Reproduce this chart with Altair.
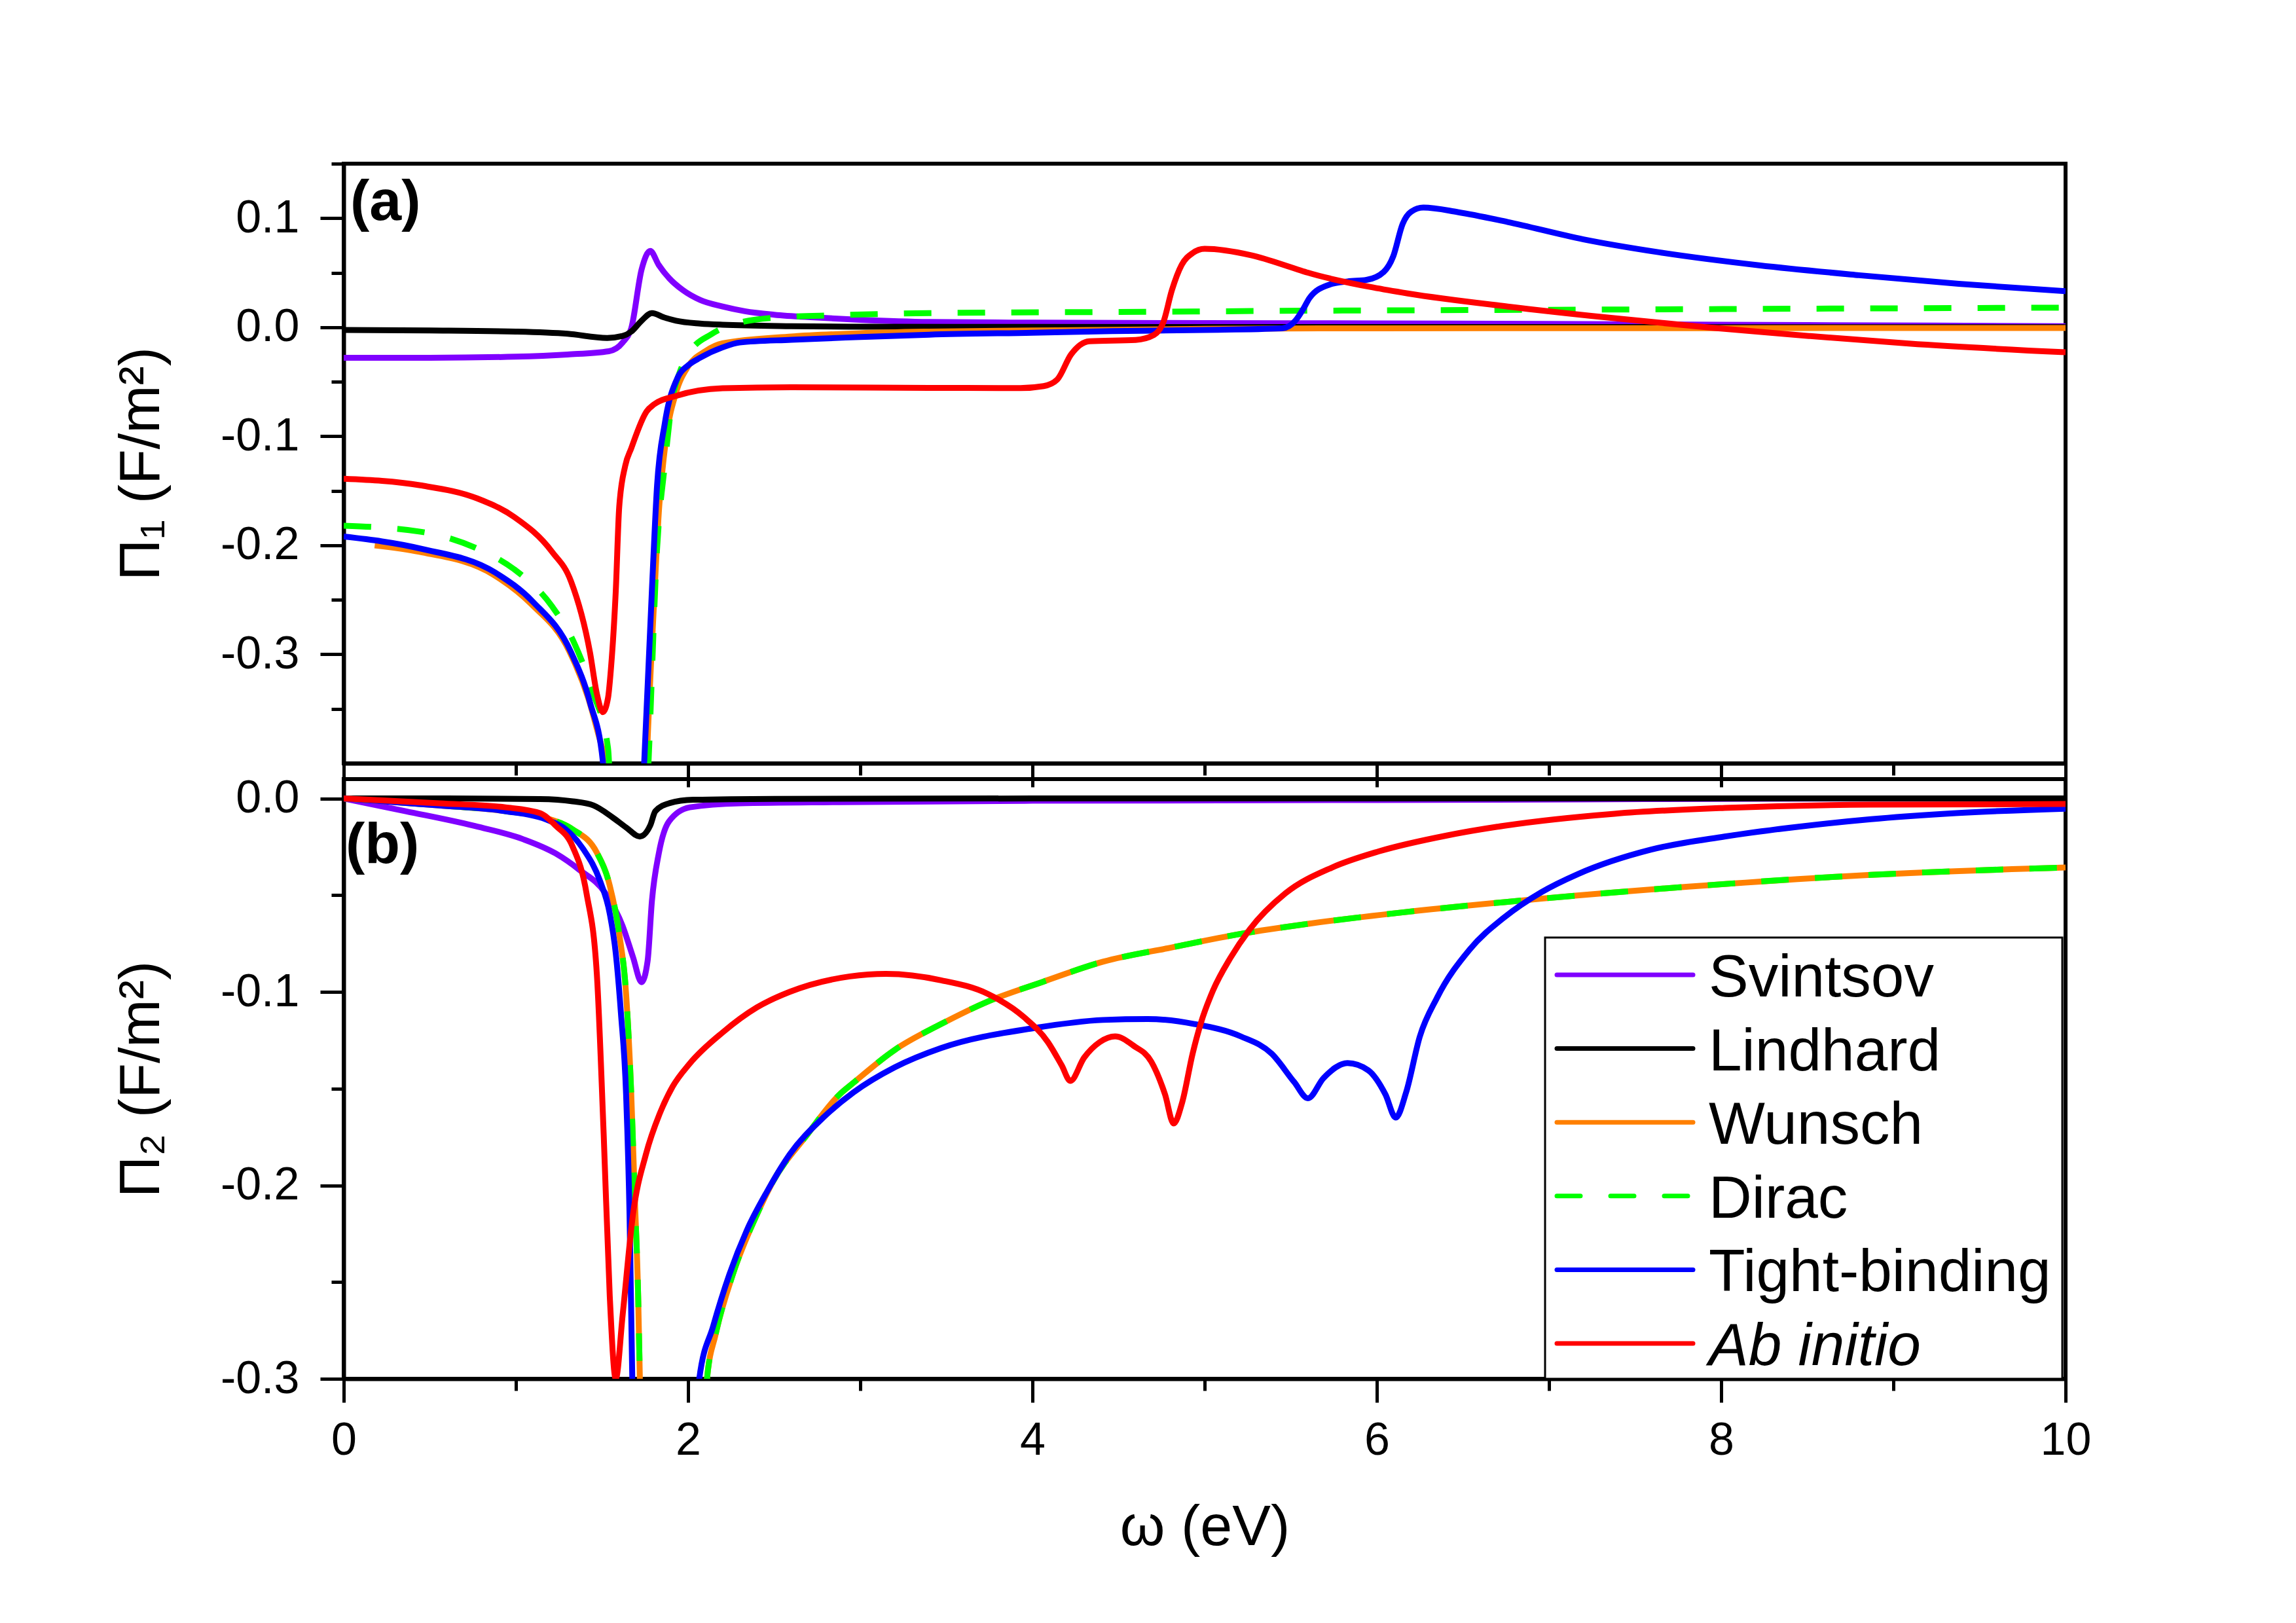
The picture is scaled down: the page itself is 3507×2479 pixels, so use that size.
import altair as alt
import pandas as pd

# ---------------- data ----------------
MODELS = ["Svintsov", "Lindhard", "Wunsch", "Dirac", "Tight-binding", "Ab initio"]
COLORS = ["#8000FF", "#000000", "#FF8000", "#00FF00", "#0000FF", "#FF0000"]

# panel (a): Pi_1
sv_a_x = [0.0, 0.5, 1.0, 1.3, 1.54, 1.62, 1.67, 1.73, 1.78, 1.83, 1.89, 1.97, 2.07, 2.2, 2.33, 2.5, 2.73, 3.0, 3.4, 4.0, 5.0, 6.0, 7.0, 8.5, 10.0]
sv_a_y = [-0.028, -0.028, -0.027, -0.025, -0.022, -0.014, -0.001, 0.053, 0.070, 0.057, 0.045, 0.034, 0.025, 0.019, 0.0147, 0.0115, 0.009, 0.0068, 0.0048, 0.0042, 0.0038, 0.0035, 0.003, 0.002, 0.001]

lh_a_x = [0.0, 0.5, 1.0, 1.3, 1.53, 1.62, 1.67, 1.73, 1.79, 1.86, 1.93, 2.07, 2.2, 2.6, 3.0, 4.0, 6.0, 8.0, 10.0]
lh_a_y = [-0.0025, -0.003, -0.004, -0.006, -0.0098, -0.008, -0.004, 0.006, 0.013, 0.009, 0.006, 0.0034, 0.0023, 0.001, 0.0005, 0.0003, 0.0002, 0.0001, 0.0]

wu_a_x = [0.18, 0.44, 0.87, 1.09, 1.31, 1.42, 1.50, 1.53, 1.56, 1.74, 1.76, 1.80, 1.83, 1.87, 1.93, 2.0, 2.1, 2.2, 2.6, 3.0, 3.4, 4.0, 5.0, 6.0, 8.0, 10.0]
wu_a_y = [-0.200, -0.206, -0.227, -0.254, -0.297, -0.340, -0.385, -0.40, -0.5, -0.5, -0.40, -0.26, -0.17, -0.105, -0.06, -0.036, -0.022, -0.0148, -0.0085, -0.0055, -0.004, -0.003, -0.0015, -0.001, -0.0008, -0.0007]

di_a_x = [0.0, 0.445, 0.775, 0.99, 1.21, 1.34, 1.45, 1.535, 1.57, 1.74, 1.77, 1.82, 1.865, 1.91, 1.95, 2.0, 2.14, 2.28, 2.52, 2.86, 3.4, 4.46, 5.8, 7.0, 8.5, 10.0]
di_a_y = [-0.182, -0.1875, -0.203, -0.222, -0.256, -0.29, -0.336, -0.386, -0.5, -0.5, -0.40, -0.203, -0.126, -0.065, -0.042, -0.025, -0.006, 0.0034, 0.009, 0.011, 0.013, 0.014, 0.0153, 0.016, 0.017, 0.018]

tb_a_x = [0.0, 0.445, 0.88, 1.10, 1.32, 1.43, 1.505, 1.53, 1.72, 1.745, 1.79, 1.82, 1.865, 1.94, 2.0, 2.07, 2.2, 2.3, 2.6, 3.0, 3.4, 4.0, 4.46, 5.0, 5.45, 5.53, 5.57, 5.61, 5.72, 5.83, 5.94, 6.04, 6.095, 6.15, 6.2, 6.27, 6.47, 6.76, 7.2, 7.64, 8.22, 8.8, 9.38, 10.0]
tb_a_y = [-0.192, -0.203, -0.225, -0.252, -0.298, -0.344, -0.398, -0.5, -0.5, -0.40, -0.241, -0.145, -0.088, -0.046, -0.035, -0.028, -0.0185, -0.014, -0.0115, -0.009, -0.0068, -0.005, -0.0036, -0.0025, -0.001, 0.0066, 0.016, 0.027, 0.0388, 0.042, 0.0434, 0.0507, 0.0649, 0.0948, 0.106, 0.1097, 0.1056, 0.0965, 0.0806, 0.0687, 0.0568, 0.0477, 0.0398, 0.033]

ai_a_x = [0.0, 0.445, 0.775, 0.99, 1.21, 1.32, 1.43, 1.47, 1.505, 1.535, 1.55, 1.58, 1.60, 1.635, 1.67, 1.76, 1.80, 1.93, 2.2, 2.6, 3.4, 3.93, 4.065, 4.144, 4.224, 4.33, 4.60, 4.706, 4.76, 4.81, 4.866, 4.93, 5.0, 5.27, 5.53, 5.6, 5.98, 6.18, 6.76, 7.35, 7.93, 8.51, 9.09, 10.0]
ai_a_y = [-0.139, -0.145, -0.157, -0.174, -0.206, -0.233, -0.298, -0.336, -0.353, -0.340, -0.317, -0.242, -0.165, -0.127, -0.111, -0.077, -0.071, -0.063, -0.056, -0.055, -0.0556, -0.0558, -0.054, -0.048, -0.025, -0.0128, -0.0116, -0.007, 0.0045, 0.034, 0.057, 0.068, 0.0719, 0.066, 0.0535, 0.050, 0.0364, 0.031, 0.019, 0.0087, -0.0003, -0.008, -0.015, -0.023]

# panel (b): Pi_2
sv_b_x = [0.0, 0.36, 0.75, 1.04, 1.23, 1.37, 1.52, 1.62, 1.68, 1.73, 1.765, 1.79, 1.83, 1.89, 2.01, 2.3, 2.88, 4.0, 6.0, 7.2, 8.0, 10.0]
sv_b_y = [0.0, -0.0066, -0.014, -0.021, -0.0284, -0.037, -0.049, -0.066, -0.082, -0.095, -0.084, -0.053, -0.0284, -0.0118, -0.0046, -0.0025, -0.0019, -0.0012, -0.0008, -0.0005, -0.0002, 0.0]

lh_b_x = [0.0, 0.6, 1.14, 1.33, 1.45, 1.56, 1.64, 1.72, 1.78, 1.81, 1.89, 2.03, 2.5, 4.0, 10.0]
lh_b_y = [0.0, 0.0, -0.0003, -0.0015, -0.0036, -0.0097, -0.015, -0.0197, -0.014, -0.0066, -0.0025, -0.0007, -0.0002, 0.0, 0.0]

wu_b_x = [0.0, 0.555, 0.94, 1.17, 1.33, 1.47, 1.545, 1.60, 1.64, 1.67, 1.69, 1.71, 1.72, 1.74, 2.08, 2.11, 2.16, 2.26, 2.40, 2.49, 2.69, 2.88, 2.96, 3.2, 3.47, 3.74, 4.06, 4.41, 4.81, 5.21, 5.61, 6.14, 6.74, 7.81, 8.87, 10.0]
wu_b_y = [0.0, -0.0036, -0.0066, -0.010, -0.016, -0.028, -0.045, -0.070, -0.101, -0.153, -0.205, -0.257, -0.30, -0.40, -0.40, -0.30, -0.277, -0.246, -0.215, -0.1985, -0.174, -0.153, -0.147, -0.130, -0.1166, -0.105, -0.0948, -0.0844, -0.077, -0.070, -0.0647, -0.059, -0.0536, -0.0456, -0.0395, -0.0357]

di_b_x = list(wu_b_x)
di_b_y = list(wu_b_y)

tb_b_x = [0.0, 0.555, 0.94, 1.17, 1.29, 1.39, 1.49, 1.545, 1.58, 1.61, 1.64, 1.66, 1.676, 1.70, 2.04, 2.065, 2.145, 2.24, 2.34, 2.46, 2.59, 2.785, 2.96, 3.2, 3.47, 4.01, 4.41, 4.67, 4.94, 5.21, 5.39, 5.52, 5.60, 5.69, 5.83, 5.95, 6.05, 6.11, 6.17, 6.25, 6.35, 6.54, 6.74, 6.955, 7.17, 7.59, 8.02, 8.45, 8.87, 9.30, 10.0]
tb_b_y = [0.0, -0.0036, -0.0066, -0.0107, -0.016, -0.026, -0.043, -0.0595, -0.080, -0.111, -0.153, -0.215, -0.30, -0.40, -0.40, -0.30, -0.273, -0.246, -0.2235, -0.203, -0.184, -0.165, -0.152, -0.139, -0.129, -0.1187, -0.1145, -0.114, -0.1166, -0.123, -0.132, -0.1466, -0.155, -0.1446, -0.1368, -0.1405, -0.153, -0.165, -0.152, -0.123, -0.103, -0.078, -0.0615, -0.0485, -0.039, -0.0265, -0.0197, -0.0146, -0.0107, -0.0079, -0.0053]

ai_b_x = [0.0, 0.555, 0.94, 1.14, 1.23, 1.33, 1.41, 1.47, 1.51, 1.545, 1.58, 1.62, 1.68, 1.755, 1.835, 1.91, 2.01, 2.20, 2.40, 2.59, 2.94, 3.15, 3.47, 3.74, 3.95, 4.09, 4.17, 4.22, 4.30, 4.39, 4.48, 4.59, 4.69, 4.77, 4.82, 4.87, 4.93, 4.98, 5.05, 5.15, 5.26, 5.47, 5.74, 6.01, 6.41, 6.74, 7.38, 8.02, 8.87, 10.0]
ai_b_y = [0.0, -0.0025, -0.0046, -0.0076, -0.014, -0.025, -0.049, -0.0907, -0.174, -0.257, -0.30, -0.267, -0.215, -0.184, -0.163, -0.149, -0.137, -0.121, -0.108, -0.100, -0.092, -0.0907, -0.094, -0.101, -0.113, -0.126, -0.138, -0.146, -0.134, -0.126, -0.123, -0.128, -0.136, -0.153, -0.168, -0.157, -0.132, -0.1156, -0.099, -0.0824, -0.0679, -0.049, -0.0357, -0.0274, -0.0191, -0.0141, -0.0079, -0.0049, -0.0032, -0.0029]

SERIES_A = [(sv_a_x, sv_a_y), (lh_a_x, lh_a_y), (wu_a_x, wu_a_y), (di_a_x, di_a_y), (tb_a_x, tb_a_y), (ai_a_x, ai_a_y)]
SERIES_B = [(sv_b_x, sv_b_y), (lh_b_x, lh_b_y), (wu_b_x, wu_b_y), (di_b_x, di_b_y), (tb_b_x, tb_b_y), (ai_b_x, ai_b_y)]

X_TICKS = list(range(0, 11))
YA_TICKS = [round(0.15 - 0.05 * i, 2) for i in range(11)]   # 0.15 ... -0.35
YB_TICKS = [round(0.0 - 0.05 * i, 2) for i in range(7)]     # 0.0 ... -0.3

# ---------------- layout / style ----------------
W, H = 2630, 916
FONT = "Liberation Sans"
LW = 9
DASH = [42, 40]

x_tick_size = {"condition": {"test": "datum.value % 2 === 0", "value": 36}, "value": 18}
y_tick_size = {"condition": {"test": "abs(datum.value*10 - round(datum.value*10)) < 0.001", "value": 36}, "value": 19}
y_label_expr = ("abs(datum.value*10 - round(datum.value*10)) < 0.001 ? "
                "(datum.value < -0.001 ? '-' : '') + format(abs(datum.value), '.1f') : ''")

common_axis = dict(domainColor="black", domainWidth=6, tickColor="black", tickWidth=5,
                   grid=False, labelFont=FONT, titleFont=FONT, labelColor="black",
                   titleColor="black", labelFontSize=70, titleFontSize=88,
                   titleFontWeight="normal", labelFlush=False)

x_axis_a = alt.Axis(values=X_TICKS, labels=False, title=None, tickSize=x_tick_size,
                    orient="bottom", **common_axis)
x_axis_b = alt.Axis(values=X_TICKS, title="ω (eV)", tickSize=x_tick_size, orient="bottom",
                    labelExpr="datum.value % 2 === 0 ? datum.label : ''",
                    labelPadding=24, titlePadding=54, **common_axis)
y_axis_a = alt.Axis(values=YA_TICKS, title="Π₁ (F/m²)", tickSize=y_tick_size,
                    labelExpr=y_label_expr, labelPadding=32, titlePadding=76, **common_axis)
y_axis_b = alt.Axis(values=YB_TICKS, title="Π₂ (F/m²)", tickSize=y_tick_size,
                    labelExpr=y_label_expr, labelPadding=32, titlePadding=76, **common_axis)

x_scale = alt.Scale(domain=[0, 10], nice=False, zero=False)
ya_scale = alt.Scale(domain=[-0.4, 0.15], nice=False, zero=False)
yb_scale = alt.Scale(domain=[-0.3, 0.01], nice=False, zero=False)


def line_layers(series, y_scale, x_axis, y_axis):
    layers = []
    for name, color, (xs, ys) in zip(MODELS, COLORS, series):
        df = pd.DataFrame({"omega": xs, "pi": ys, "model": name})
        kw = dict(color=color, strokeWidth=LW, clip=True, interpolate="monotone")
        if name == "Dirac":
            kw.update(strokeDash=DASH)
        layers.append(
            alt.Chart(df).mark_line(**kw).encode(
                x=alt.X("omega:Q", scale=x_scale, axis=x_axis),
                y=alt.Y("pi:Q", scale=y_scale, axis=y_axis),
                order=alt.Order("omega:Q"),
            )
        )
    return layers


one = pd.DataFrame({"k": [0]})

label_a = alt.Chart(one).mark_text(text="(a)", font=FONT, fontSize=88, fontWeight="bold",
                                   align="left", baseline="alphabetic", color="black").encode(
    x=alt.value(10), y=alt.value(86))
label_b = alt.Chart(one).mark_text(text="(b)", font=FONT, fontSize=88, fontWeight="bold",
                                   align="left", baseline="alphabetic", color="black").encode(
    x=alt.value(3), y=alt.value(128))

# legend (inside panel b)
LEG_L, LEG_R, LEG_T, LEG_B = 1835, 2625, 242, 916
ROW0, ROWSTEP = 299, 112.6
SYM_X1, SYM_X2, TXT_X = 1853, 2061, 2085

legend_layers = [
    alt.Chart(one).mark_rect(fill="white", stroke="black", strokeWidth=3).encode(
        x=alt.value(LEG_L), x2=alt.value(LEG_R), y=alt.value(LEG_T), y2=alt.value(LEG_B))
]
for i, (name, color) in enumerate(zip(MODELS, COLORS)):
    yy = ROW0 + i * ROWSTEP
    rkw = dict(color=color, strokeWidth=7, strokeCap="round")
    if name == "Dirac":
        rkw.update(strokeDash=[36, 46])
    legend_layers.append(
        alt.Chart(one).mark_rule(**rkw).encode(
            x=alt.value(SYM_X1), x2=alt.value(SYM_X2), y=alt.value(yy)))
    tkw = dict(text=name, font=FONT, fontSize=91, align="left", baseline="middle", color="black")
    if name == "Ab initio":
        tkw.update(fontStyle="italic")
    legend_layers.append(
        alt.Chart(one).mark_text(**tkw).encode(x=alt.value(TXT_X), y=alt.value(yy + 6)))

view_box = alt.ViewBackground(stroke="black", strokeWidth=6)

panel_a = alt.layer(*line_layers(SERIES_A, ya_scale, x_axis_a, y_axis_a), label_a).properties(
    width=W, height=H, view=view_box)
panel_b = alt.layer(*line_layers(SERIES_B, yb_scale, x_axis_b, y_axis_b), label_b,
                    *legend_layers).properties(width=W, height=H, view=view_box)

chart = alt.vconcat(panel_a, panel_b, spacing=24, bounds="flush").properties(
    padding={"left": 161, "top": 236, "right": 20, "bottom": 20},
    background="white",
).configure_view(stroke="black", strokeWidth=6).configure(font=FONT)

chart.save("out.html", embed_options={"renderer": "svg", "actions": False})
